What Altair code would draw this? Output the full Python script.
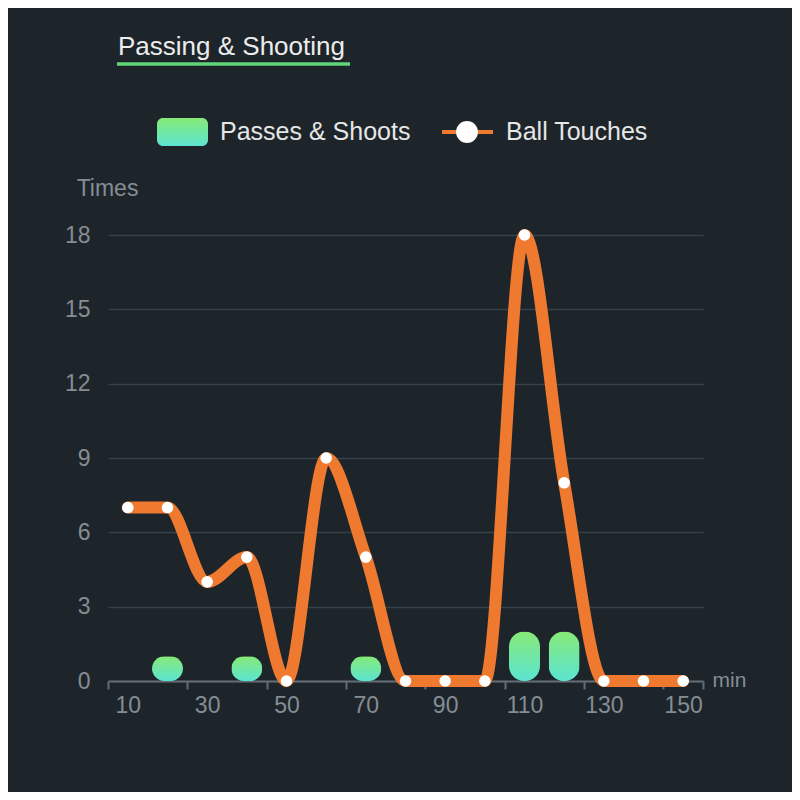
import altair as alt
import pandas as pd

# ---- data ----
minutes = [10, 20, 30, 40, 50, 60, 70, 80, 90, 100, 110, 120, 130, 140, 150]
ball_touches = [7, 7, 4, 5, 0, 9, 5, 0, 0, 0, 18, 8, 0, 0, 0]
pass_minutes = [20, 40, 70, 110, 120]
passes_shoots = [1, 1, 1, 2, 2]
y_ticks = [0, 3, 6, 9, 12, 15, 18]
x_boundaries = [5, 25, 45, 65, 85, 105, 125, 145, 155]

line_df = pd.DataFrame({"minute": minutes, "touches": ball_touches})
bar_df = pd.DataFrame({"minute": pass_minutes, "passes": passes_shoots})
dummy = pd.DataFrame({"d": [0]})

W, H = 595, 446
FONT = "Liberation Sans"
AXIS_GRAY = "#858d94"
ORANGE = "#ef7a2f"

x_scale = alt.Scale(domain=[5, 155], nice=False, zero=False, padding=0)
y_scale = alt.Scale(domain=[0, 18], nice=False, padding=0)

x_axis = alt.Axis(
    values=x_boundaries,
    labelExpr="datum.value >= 155 ? '' : '' + (datum.value + 5)",
    labelOffset=19.83,
    labelFlush=False,
    labelOverlap=False,
    grid=False,
    domainColor="#646d74",
    domainWidth=2,
    tickColor="#646d74",
    tickWidth=2,
    tickSize=8,
    labelPadding=5,
    labelColor=AXIS_GRAY,
    labelFontSize=23,
    labelFont=FONT,
    title="min",
    titleX=W + 9,
    titleY=-1,
    titleAlign="left",
    titleBaseline="middle",
    titleColor=AXIS_GRAY,
    titleFontSize=21,
    titleFontWeight="normal",
    titleFont=FONT,
)

y_axis = alt.Axis(
    values=y_ticks,
    grid=True,
    gridColor="#36414a",
    gridWidth=1.5,
    domain=False,
    ticks=False,
    tickSize=0,
    labelPadding=18,
    labelColor=AXIS_GRAY,
    labelFontSize=23,
    labelFont=FONT,
    title="Times",
    titleAngle=0,
    titleX=-1,
    titleY=-47,
    titleAlign="center",
    titleBaseline="middle",
    titleColor=AXIS_GRAY,
    titleFontSize=23,
    titleFontWeight="normal",
    titleFont=FONT,
)

bar_gradient = alt.Gradient(
    gradient="linear",
    stops=[alt.GradientStop(color="#86ea76", offset=0),
           alt.GradientStop(color="#5ce4d2", offset=1)],
    x1=0, x2=0, y1=0, y2=1,
)

bars = alt.Chart(bar_df).mark_bar(width=31, cornerRadius=15, fill=bar_gradient).encode(
    x=alt.X("minute:Q", scale=x_scale, axis=x_axis),
    y=alt.Y("passes:Q", scale=y_scale, axis=y_axis),
)

line = alt.Chart(line_df).mark_line(
    interpolate="monotone", strokeWidth=12, color=ORANGE, strokeCap="round"
).encode(
    x=alt.X("minute:Q", scale=x_scale),
    y=alt.Y("touches:Q", scale=y_scale),
)

points = alt.Chart(line_df).mark_circle(size=135, color="white", opacity=1).encode(
    x=alt.X("minute:Q", scale=x_scale),
    y=alt.Y("touches:Q", scale=y_scale),
)

# ---- title & legend decorations ----
title_text = alt.Chart(dummy).mark_text(
    text="Passing & Shooting", align="left", baseline="middle",
    fontSize=26, font=FONT, color="#ececec"
).encode(x=alt.value(10), y=alt.value(-188))

underline = alt.Chart(dummy).mark_rule(color="#5fd67a", strokeWidth=3.5).encode(
    x=alt.value(9), x2=alt.value(242), y=alt.value(-171)
)

leg_rect = alt.Chart(dummy).mark_rect(cornerRadius=6, fill=bar_gradient).encode(
    x=alt.value(49), x2=alt.value(100), y=alt.value(-117), y2=alt.value(-89)
)
leg_text1 = alt.Chart(dummy).mark_text(
    text="Passes & Shoots", align="left", baseline="middle",
    fontSize=25, font=FONT, color="#e6e6e6"
).encode(x=alt.value(112), y=alt.value(-103))

leg_line = alt.Chart(dummy).mark_rule(color=ORANGE, strokeWidth=4).encode(
    x=alt.value(334), x2=alt.value(385), y=alt.value(-103)
)
leg_dot = alt.Chart(dummy).mark_point(
    shape="circle", size=480, filled=True, color="white", opacity=1
).encode(x=alt.value(359), y=alt.value(-103))
leg_text2 = alt.Chart(dummy).mark_text(
    text="Ball Touches", align="left", baseline="middle",
    fontSize=25, font=FONT, color="#e6e6e6"
).encode(x=alt.value(398), y=alt.value(-103))

chart = alt.layer(
    bars, line, points, title_text, underline,
    leg_rect, leg_text1, leg_line, leg_dot, leg_text2
).properties(
    width=W, height=H,
    autosize=alt.AutoSizeParams(type="none"),
    padding={"left": 100, "top": 227, "right": 89, "bottom": 111},
    background="#1d252b",
).configure_view(stroke=None)

chart.save("out.html", embed_options={"renderer": "svg", "actions": False})
